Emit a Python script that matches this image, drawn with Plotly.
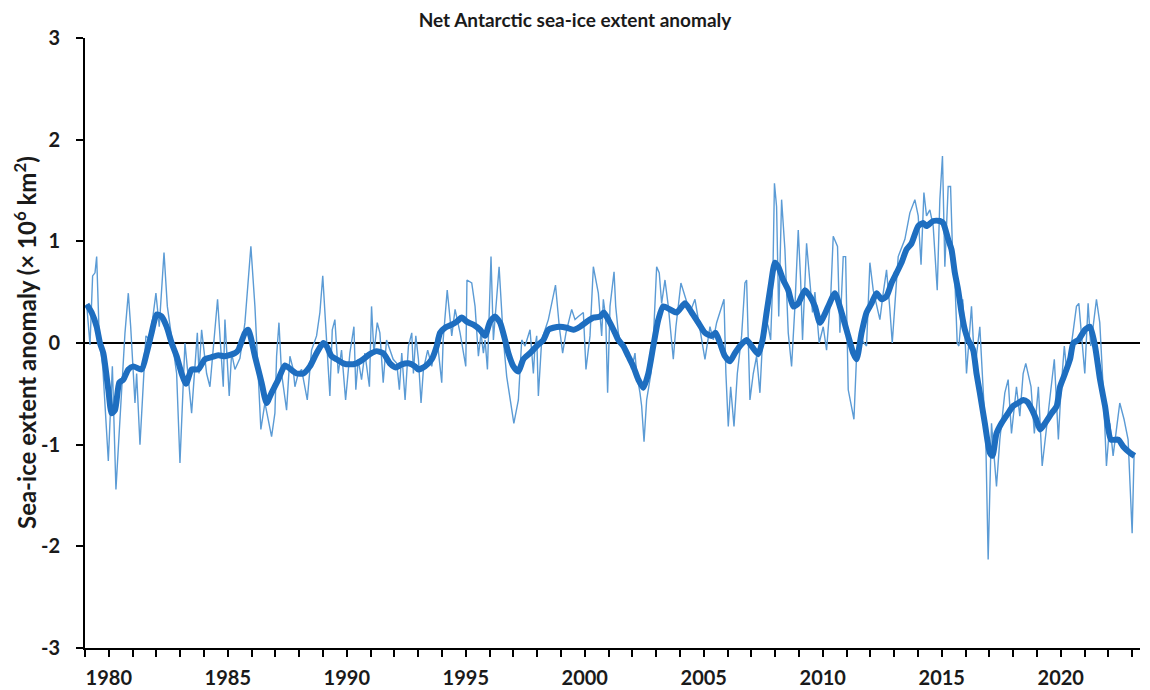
import plotly.graph_objects as go

# Monthly anomaly (thin line): time in decimal years, value in 10^6 km^2
thin_t = [1979.07,1979.21,1979.32,1979.42,1979.49,1979.60,1979.75,1979.98,1980.15,1980.30,1980.47,1980.68,1980.82,1980.92,
1981.10,1981.17,1981.31,1981.56,1981.73,1981.98,1982.12,1982.32,1982.46,1982.64,1982.85,1982.99,1983.20,1983.48,1983.72,
1983.79,1983.90,1984.11,1984.25,1984.57,1984.81,1984.88,1985.06,1985.16,1985.30,1985.51,1985.72,1985.97,1986.14,1986.39,
1986.56,1986.84,1986.98,1987.05,1987.15,1987.26,1987.47,1987.61,1987.75,1987.82,1987.96,1988.10,1988.34,1988.52,1988.73,
1988.87,1988.99,1989.15,1989.29,1989.39,1989.50,1989.64,1989.78,1989.95,1990.13,1990.30,1990.38,1990.48,1990.62,1990.76,
1990.95,1991.04,1991.14,1991.28,1991.39,1991.53,1991.67,1991.95,1992.10,1992.21,1992.31,1992.45,1992.59,1992.73,1992.80,
1992.90,1993.01,1993.12,1993.22,1993.40,1993.57,1993.78,1993.99,1994.05,1994.22,1994.41,1994.55,1994.76,1995.00,1995.05,
1995.25,1995.39,1995.53,1995.64,1995.74,1995.81,1995.91,1996.06,1996.16,1996.40,1996.58,1996.72,1996.86,1997.02,1997.21,
1997.35,1997.49,1997.70,1997.84,1997.91,1997.98,1998.05,1998.19,1998.47,1998.77,1998.93,1999.07,1999.21,1999.45,1999.59,
1999.73,1999.94,2000.05,2000.22,2000.36,2000.57,2000.71,2000.78,2000.88,2000.96,2001.06,2001.16,2001.23,2001.30,2001.41,
2001.55,2001.69,2001.83,2001.97,2002.11,2002.18,2002.32,2002.39,2002.49,2002.60,2002.78,2002.88,2003.02,2003.13,2003.23,
2003.37,2003.51,2003.72,2003.83,2004.04,2004.21,2004.42,2004.63,2004.91,2005.05,2005.26,2005.40,2005.54,2005.75,2005.85,
2005.93,2006.03,2006.13,2006.27,2006.41,2006.59,2006.73,2006.80,2006.94,2007.08,2007.22,2007.36,2007.47,2007.57,2007.71,
2007.81,2007.90,2007.97,2008.06,2008.15,2008.27,2008.41,2008.55,2008.69,2008.83,2008.97,2009.07,2009.15,2009.32,2009.44,
2009.57,2009.67,2009.85,2010.02,2010.16,2010.34,2010.44,2010.62,2010.72,2010.86,2010.96,2011.07,2011.31,2011.42,2011.63,
2011.84,2011.98,2012.12,2012.40,2012.54,2012.68,2012.82,2012.92,2013.17,2013.45,2013.66,2013.87,2014.01,2014.13,2014.25,
2014.36,2014.50,2014.64,2014.81,2014.92,2015.03,2015.13,2015.27,2015.37,2015.48,2015.55,2015.65,2015.72,2015.88,2015.97,
2016.04,2016.25,2016.39,2016.60,2016.74,2016.85,2016.95,2017.09,2017.30,2017.44,2017.65,2017.79,2017.93,2018.14,2018.28,
2018.42,2018.53,2018.66,2018.75,2018.89,2019.06,2019.22,2019.41,2019.62,2019.73,2019.90,2020.01,2020.15,2020.26,2020.40,
2020.66,2020.76,2020.87,2021.01,2021.15,2021.26,2021.50,2021.64,2021.78,2021.85,2021.92,2022.06,2022.20,2022.34,2022.48,
2022.66,2022.83,2023.00,2023.08]
thin_v = [0.38,-0.02,0.66,0.69,0.85,0.05,-0.25,-1.16,-0.23,-1.44,-0.75,0.10,0.49,0.16,
-0.59,-0.30,-1.00,0.07,0.03,0.49,0.16,0.89,0.36,0.03,-0.30,-1.18,0.00,-0.69,0.10,
-0.30,0.13,-0.30,-0.43,0.43,-0.43,0.23,-0.52,-0.10,-0.26,-0.15,0.20,0.95,0.36,-0.85,
-0.59,-0.92,-0.69,-0.13,0.20,-0.30,-0.66,-0.13,-0.26,-0.43,-0.30,-0.26,-0.56,-0.07,0.07,
0.30,0.66,0.03,-0.52,0.13,0.23,-0.30,-0.07,-0.56,-0.10,0.16,-0.46,-0.16,-0.36,-0.10,
-0.43,0.36,-0.10,0.20,0.10,-0.39,0.03,-0.16,-0.20,-0.46,-0.10,-0.56,-0.03,0.10,-0.30,
0.07,-0.16,-0.59,-0.26,-0.07,-0.23,0.07,-0.39,0.03,0.52,0.07,0.33,0.10,-0.23,0.62,
0.59,0.36,-0.13,0.10,-0.10,0.03,-0.26,0.85,0.03,0.75,0.03,-0.33,-0.56,-0.79,-0.56,
0.03,-0.03,0.13,-0.30,-0.03,0.07,-0.52,0.03,0.23,0.57,0.16,-0.10,0.10,0.33,0.23,
0.26,0.30,-0.26,0.07,0.75,0.49,0.07,0.43,0.25,-0.49,0.36,0.59,0.70,0.36,0.10,
-0.03,-0.10,-0.13,-0.26,-0.10,-0.30,-0.49,-0.62,-0.97,-0.56,-0.30,0.03,0.75,0.69,0.39,
0.62,0.36,-0.16,0.16,0.59,0.46,0.30,0.43,0.03,-0.16,0.16,0.03,0.20,0.36,0.43,
-0.30,-0.82,-0.43,-0.82,-0.30,0.07,0.59,0.62,-0.56,-0.30,-0.13,-0.49,0.03,0.26,0.16,
0.03,0.62,1.57,1.34,0.26,1.41,0.92,0.10,-0.23,0.36,1.11,0.62,0.03,0.98,0.69,
0.30,0.50,0.00,0.16,-0.07,0.49,1.05,0.95,0.10,0.85,0.85,-0.46,-0.75,-0.13,0.03,
-0.03,0.79,0.52,0.23,0.49,0.72,0.33,0.00,0.85,1.02,1.28,1.41,1.25,0.77,1.48,
1.25,1.31,1.15,0.52,1.41,1.84,0.75,1.54,1.54,0.69,0.62,0.00,-0.03,0.43,0.10,
-0.30,0.36,-0.26,0.16,-0.46,-0.95,-2.13,-0.79,-1.41,-0.95,-0.49,-0.36,-0.89,-0.43,-0.72,
-0.30,-0.20,-0.35,-0.43,-0.89,-0.43,-1.21,-0.82,-0.43,-0.16,-0.95,-0.46,-0.03,-0.30,-0.10,
0.36,0.39,0.10,-0.30,0.39,-0.03,0.43,0.20,-0.43,-0.82,-1.21,-0.79,-1.11,-0.85,-0.59,
-0.75,-0.95,-1.87,-1.11]

# Running mean (thick line)
mean_t = [1979.07,1979.28,1979.49,1979.63,1979.77,1979.98,1980.12,1980.26,1980.44,1980.61,1980.82,1981.03,1981.38,1981.59,
1981.80,1982.01,1982.22,1982.43,1982.64,1982.85,1983.06,1983.25,1983.48,1983.76,1984.04,1984.32,1984.60,1984.88,1985.30,
1985.44,1985.72,1985.86,1986.14,1986.42,1986.63,1986.84,1987.12,1987.40,1987.65,1987.89,1988.17,1988.45,1988.73,1989.01,
1989.15,1989.36,1989.57,1989.85,1990.13,1990.41,1990.69,1990.97,1991.25,1991.53,1991.81,1992.06,1992.31,1992.59,1992.87,
1993.01,1993.29,1993.57,1993.78,1993.92,1994.13,1994.41,1994.62,1994.83,1995.04,1995.32,1995.60,1995.81,1996.02,1996.23,
1996.44,1996.65,1996.79,1997.00,1997.21,1997.42,1997.70,1997.98,1998.26,1998.47,1998.68,1998.96,1999.24,1999.52,1999.80,
2000.08,2000.36,2000.64,2000.80,2000.99,2001.27,2001.41,2001.62,2001.83,2002.04,2002.25,2002.46,2002.67,2002.88,2003.09,
2003.30,2003.58,2003.86,2004.21,2004.49,2004.77,2005.05,2005.33,2005.50,2005.68,2005.89,2006.10,2006.31,2006.52,2006.80,
2007.01,2007.29,2007.47,2007.64,2007.81,2007.99,2008.13,2008.34,2008.55,2008.76,2008.97,2009.25,2009.46,2009.67,2009.88,
2010.23,2010.51,2010.79,2011.07,2011.28,2011.42,2011.63,2011.84,2012.05,2012.26,2012.47,2012.68,2012.89,2013.10,2013.31,
2013.52,2013.73,2014.01,2014.22,2014.36,2014.64,2014.92,2015.06,2015.27,2015.41,2015.55,2015.69,2015.83,2015.97,2016.11,
2016.32,2016.46,2016.60,2016.81,2017.02,2017.13,2017.30,2017.51,2017.79,2018.00,2018.21,2018.42,2018.60,2018.80,2018.95,
2019.13,2019.34,2019.62,2019.83,2019.97,2020.18,2020.39,2020.53,2020.74,2021.02,2021.23,2021.44,2021.65,2021.86,2022.11,
2022.42,2022.63,2022.91,2023.10]
mean_v = [0.38,0.30,0.16,0.00,-0.10,-0.46,-0.69,-0.66,-0.39,-0.36,-0.26,-0.23,-0.26,-0.10,
0.10,0.28,0.26,0.16,0.00,-0.13,-0.30,-0.40,-0.26,-0.26,-0.16,-0.14,-0.12,-0.13,-0.10,
-0.07,0.10,0.13,-0.13,-0.39,-0.59,-0.49,-0.36,-0.22,-0.26,-0.30,-0.30,-0.23,-0.10,0.00,
-0.03,-0.13,-0.16,-0.20,-0.21,-0.20,-0.16,-0.11,-0.08,-0.10,-0.20,-0.24,-0.21,-0.20,-0.23,
-0.26,-0.23,-0.16,-0.03,0.10,0.15,0.18,0.21,0.25,0.21,0.18,0.13,0.07,0.21,0.26,
0.20,0.03,-0.10,-0.23,-0.28,-0.16,-0.10,-0.03,0.03,0.13,0.15,0.16,0.15,0.13,0.16,
0.21,0.25,0.26,0.30,0.23,0.10,0.03,-0.03,-0.13,-0.23,-0.36,-0.44,-0.30,-0.03,0.23,
0.36,0.33,0.30,0.39,0.30,0.20,0.10,0.07,0.10,0.00,-0.13,-0.18,-0.10,-0.03,0.03,
-0.03,-0.11,0.03,0.30,0.56,0.79,0.75,0.62,0.52,0.36,0.39,0.52,0.46,0.36,0.20,
0.36,0.49,0.30,0.07,-0.10,-0.16,0.10,0.30,0.39,0.49,0.43,0.46,0.59,0.69,0.79,
0.92,0.98,1.15,1.18,1.15,1.20,1.20,1.18,1.02,0.92,0.69,0.52,0.30,0.13,0.03,
-0.07,-0.30,-0.49,-0.79,-1.08,-1.11,-0.89,-0.79,-0.69,-0.62,-0.59,-0.56,-0.58,-0.66,-0.74,
-0.85,-0.79,-0.69,-0.62,-0.43,-0.30,-0.16,0.00,0.03,0.13,0.16,-0.03,-0.36,-0.62,-0.95,
-0.95,-1.02,-1.08,-1.11]

years = list(range(1979, 2024))
year_labels = [str(y) if y % 5 == 0 else "" for y in years]
y_ticks = [-3, -2, -1, 0, 1, 2, 3]
y_tick_labels = ["-3", "-2", "-1", "0", "1", "2", "3"]

FONT = "Lato, 'Open Sans', sans-serif"
TXT = "#1a1a1a"

# Page body has an 8px margin, so the figure is sized to fill the rest of the window.
W, H = 1142, 682

fig = go.Figure()
fig.add_trace(go.Scatter(x=thin_t, y=thin_v, mode="lines",
                         line=dict(color="#5B9BD5", width=1.4), showlegend=False, hoverinfo="skip"))
fig.add_trace(go.Scatter(x=mean_t, y=mean_v, mode="lines",
                         line=dict(color="#1E6EC0", width=6, shape="spline", smoothing=0.6),
                         showlegend=False, hoverinfo="skip"))

fig.update_layout(
    width=W, height=H,
    margin=dict(l=77, r=10, t=30, b=42, autoexpand=False),
    paper_bgcolor="white", plot_bgcolor="white",
    font=dict(family=FONT, color=TXT),
    title=dict(text="<b>Net Antarctic sea-ice extent anomaly</b>", xref="container",
               x=567 / W, xanchor="center", yref="container", y=1 - 12 / H, yanchor="middle",
               font=dict(size=19, family=FONT, color=TXT)),
)
fig.update_xaxes(
    range=[1979, 2023.33], tickmode="array", tickvals=years, ticktext=year_labels,
    showline=True, linecolor="black", linewidth=2, ticks="outside", ticklen=7, tickwidth=2,
    tickcolor="black", showgrid=False, zeroline=False, automargin=False, ticklabelstandoff=4,
    tickfont=dict(size=20, family=FONT, weight="bold", color=TXT),
)
fig.update_yaxes(
    range=[-3, 3], tickmode="array", tickvals=y_ticks, ticktext=y_tick_labels,
    showline=True, linecolor="black", linewidth=2, ticks="outside", ticklen=7, tickwidth=2,
    tickcolor="black", showgrid=False, zeroline=True, zerolinecolor="black", zerolinewidth=2,
    automargin=False, ticklabelstandoff=12,
    tickfont=dict(size=20, family=FONT, weight="bold", color=TXT),
)
fig.add_annotation(
    text="<b>Sea-ice extent anomaly (× 10<sup>6</sup> km<sup>2</sup>)</b>",
    xref="paper", yref="paper", x=-60 / 1055, y=0.5, xanchor="center", yanchor="middle",
    textangle=-90, showarrow=False, font=dict(size=24, family=FONT, color=TXT),
)

fig.write_html("out.html")
